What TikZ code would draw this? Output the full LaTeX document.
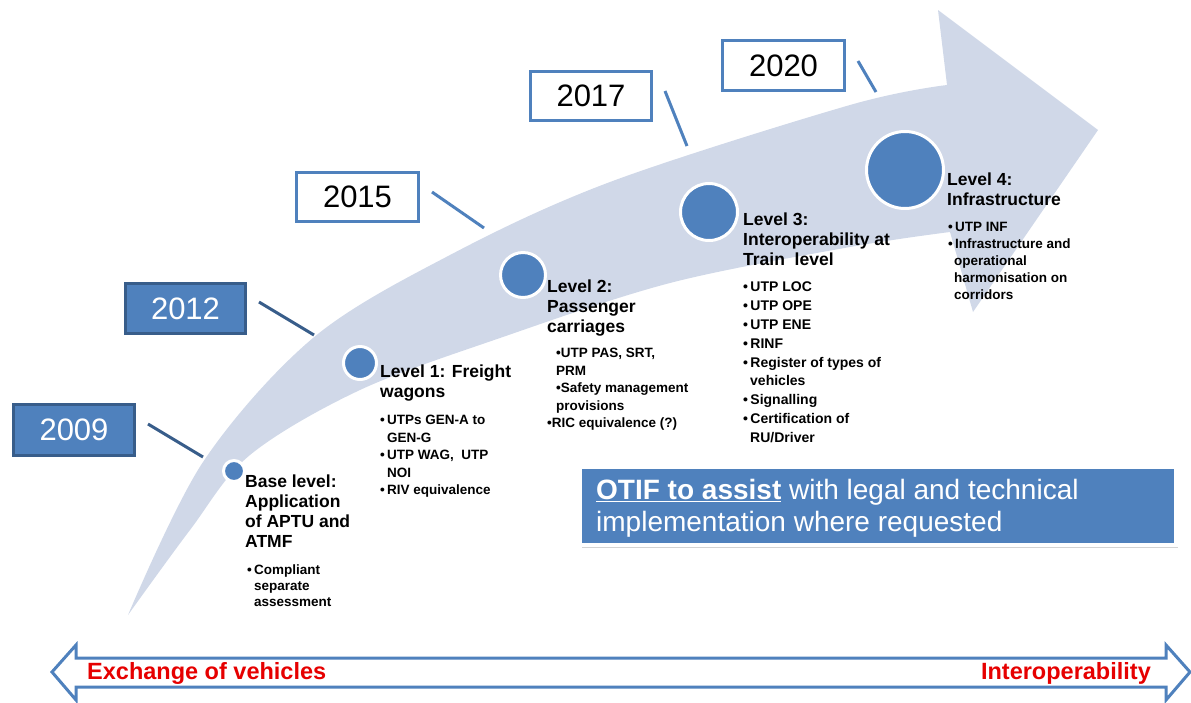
\documentclass[tikz,border=0pt]{standalone}
\usepackage{fontspec}
\setmainfont{Liberation Sans}
\usetikzlibrary{shadows}
\definecolor{accent}{HTML}{4F81BD}
\definecolor{accentdark}{HTML}{385D8A}
\definecolor{bandcol}{HTML}{D0D8E8}
\definecolor{redtxt}{HTML}{E60000}
\begin{document}
\begin{tikzpicture}[x=1pt,y=-1pt,
  yearfill/.style={draw=accentdark, fill=accent, line width=2.5pt, text=white, inner sep=0,
    font=\fontsize{31}{31}\selectfont},
  yearopen/.style={draw=accent, fill=white, line width=2.5pt, text=black, inner sep=0,
    font=\fontsize{31}{31}\selectfont},
  linkdark/.style={draw=accentdark, line width=3pt},
  linklight/.style={draw=accent, line width=3pt},
  leveldot/.style={circle, fill=accent, draw=white, line width=3pt, inner sep=0},
  headtxt/.style={anchor=north west, inner sep=0, align=left,
    font=\bfseries\fontsize{17.5}{20}\selectfont},
  bultxt/.style={anchor=north west, inner sep=0, align=left,
    font=\bfseries\fontsize{13.5}{17.5}\selectfont},
  redlabel/.style={text=redtxt, inner sep=0, font=\bfseries\fontsize{23.5}{23.5}\selectfont}
]
\useasboundingbox (0,0) rectangle (1191,702);

% big curved arrow
\fill[bandcol] plot[smooth,tension=0.55] coordinates {(128,615) (203,462) (313,338) (450,255) (610,182) (850,105) (947,85)}
  -- (938,10) -- (1098,130) -- (973,312) -- (950,232)
  -- plot[smooth,tension=0.55] coordinates {(950,232) (850,247) (670,283) (500,338) (360,390) (250,455) (190,530) (128,615)}
  -- cycle;

% year boxes
\node[yearfill, minimum width=121pt, minimum height=51pt] (y2009) at (74,430) {2009};
\node[yearfill, minimum width=120pt, minimum height=50pt] (y2012) at (185.5,308.5) {2012};
\node[yearopen, minimum width=122pt, minimum height=49pt] (y2015) at (357.5,197) {2015};
\node[yearopen, minimum width=121pt, minimum height=49pt] (y2017) at (591,96) {2017};
\node[yearopen, minimum width=122pt, minimum height=50pt] (y2020) at (783.5,65.5) {2020};

% connector ends
\coordinate (a09) at (148,424); \coordinate (b09) at (203,457);
\coordinate (a12) at (259,302); \coordinate (b12) at (314,335);
\coordinate (a15) at (432,192); \coordinate (b15) at (484,228);
\coordinate (a17) at (665,91);  \coordinate (b17) at (687,146);
\coordinate (a20) at (858,61);  \coordinate (b20) at (876,92);
\draw[linkdark] (a09) -- (b09);
\draw[linkdark] (a12) -- (b12);
\draw[linklight] (a15) -- (b15);
\draw[linklight] (a17) -- (b17);
\draw[linklight] (a20) -- (b20);

% level dots
\node[leveldot, minimum size=21pt] (d0) at (234,471) {};
\node[leveldot, minimum size=33pt] (d1) at (360,363) {};
\node[leveldot, minimum size=45pt] (d2) at (523,275) {};
\node[leveldot, minimum size=57pt] (d3) at (709,212) {};
\node[leveldot, minimum size=77pt] (d4) at (905,170) {};

% headings
\node[headtxt] (h0) at (245,475) {Base level:\\Application\\of APTU and\\ATMF};
\node[headtxt] (h1) at (380,365) {Level 1: Freight\\wagons};
\node[headtxt] (h2) at (547,280) {Level 2:\\Passenger\\carriages};
\node[headtxt] (h3) at (743,213) {Level 3:\\Interoperability at\\Train\ \ level};
\node[headtxt] (h4) at (947,173) {Level 4:\\Infrastructure};

% bullet lists
\node[bultxt, font=\bfseries\fontsize{13.5}{16}\selectfont] (b0) at (247,565)
  {•\,Compliant\\\hspace*{7pt}separate\\\hspace*{7pt}assessment};
\node[bultxt] (bl1) at (380,415)
  {•\,UTPs GEN-A to\\\hspace*{7pt}GEN-G\\•\,UTP WAG,\ \ UTP\\\hspace*{7pt}NOI\\•\,RIV equivalence};
\node[bultxt] (bl2) at (547,348)
  {\hspace*{9pt}•UTP PAS,\ SRT,\\\hspace*{9pt}PRM\\\hspace*{9pt}•Safety management\\\hspace*{9pt}provisions\\•RIC equivalence (?)};
\node[bultxt, font=\bfseries\fontsize{14}{18.8}\selectfont] (bl3) at (743,282)
  {•\,UTP LOC\\•\,UTP OPE\\•\,UTP ENE\\•\,RINF\\•\,Register of types of\\\hspace*{7pt}vehicles\\•\,Signalling\\•\,Certification of\\\hspace*{7pt}RU/Driver};
\node[bultxt, font=\bfseries\fontsize{13.5}{17}\selectfont] (bl4) at (948,222)
  {•\,UTP INF\\•\,Infrastructure and\\\hspace*{6pt}operational\\\hspace*{6pt}harmonisation on\\\hspace*{6pt}corridors};

% OTIF box
\node[fill=accent, draw=white, line width=4pt, minimum width=596pt, minimum height=78pt,
  drop shadow={opacity=0.35, shadow xshift=2pt, shadow yshift=-3pt}] (otif) at (878,506) {};
\node[anchor=north west, inner sep=0, align=left, text=white,
  font=\fontsize{28}{32}\selectfont] (otiftxt) at (596,479)
  {\textbf{\underline{OTIF to assist}} with legal and technical\\implementation where requested};

% bottom double arrow
\draw[accent, line width=3pt, fill=white, line join=miter]
  (52,672) -- (76,645) -- (76,658) -- (1166,658) -- (1166,645) -- (1190,672)
  -- (1166,700) -- (1166,687) -- (76,687) -- (76,700) -- cycle;
\node[redlabel, anchor=west] (exch) at (87,673) {Exchange of vehicles};
\node[redlabel, anchor=east] (interop) at (1151,673) {Interoperability};
\end{tikzpicture}
\end{document}
